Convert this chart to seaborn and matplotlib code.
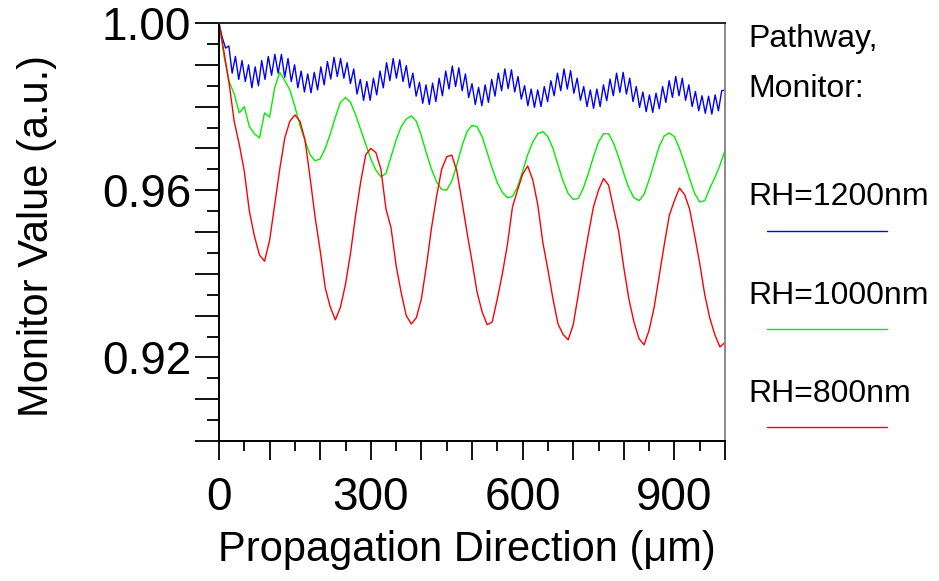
import numpy as np
import pandas as pd
import matplotlib
matplotlib.use("Agg")
import matplotlib.pyplot as plt
from matplotlib.lines import Line2D
from matplotlib.ticker import MultipleLocator, FuncFormatter
from matplotlib import font_manager
import seaborn as sns

# --- data ---
series_names = ["RH=1200nm", "RH=1000nm", "RH=800nm"]
series_colors = ["#0000ff", "#00ee00", "#ff0000"]

# RH=1200nm: fine ripple (~13 um) on a slow beat, sampled at crest / trough
x_blue = np.linspace(0, 1000, 155)
y_blue = [
    1.0000, 0.9965, 0.9940, 0.9945, 0.9880, 0.9920, 0.9865, 0.9910, 0.9860, 0.9900,
    0.9845, 0.9895, 0.9850, 0.9910, 0.9865, 0.9920, 0.9875, 0.9925, 0.9880, 0.9925,
    0.9870, 0.9915, 0.9860, 0.9900, 0.9845, 0.9885, 0.9835, 0.9878, 0.9833, 0.9882,
    0.9840, 0.9895, 0.9852, 0.9908, 0.9866, 0.9918, 0.9872, 0.9915, 0.9868, 0.9905,
    0.9855, 0.9890, 0.9830, 0.9865, 0.9815, 0.9860, 0.9815, 0.9868, 0.9828, 0.9885,
    0.9845, 0.9905, 0.9862, 0.9915, 0.9868, 0.9912, 0.9860, 0.9898, 0.9845, 0.9880,
    0.9825, 0.9858, 0.9808, 0.9852, 0.9805, 0.9856, 0.9812, 0.9868, 0.9826, 0.9885,
    0.9842, 0.9897, 0.9848, 0.9893, 0.9838, 0.9878, 0.9822, 0.9855, 0.9805, 0.9846,
    0.9802, 0.9852, 0.9810, 0.9865, 0.9825, 0.9880, 0.9838, 0.9890, 0.9843, 0.9888,
    0.9835, 0.9872, 0.9818, 0.9850, 0.9802, 0.9842, 0.9798, 0.9840, 0.9800, 0.9848,
    0.9812, 0.9862, 0.9826, 0.9880, 0.9838, 0.9890, 0.9842, 0.9886, 0.9832, 0.9868,
    0.9815, 0.9848, 0.9800, 0.9840, 0.9796, 0.9842, 0.9800, 0.9852, 0.9814, 0.9866,
    0.9826, 0.9880, 0.9834, 0.9882, 0.9830, 0.9868, 0.9812, 0.9848, 0.9798, 0.9835,
    0.9788, 0.9828, 0.9786, 0.9832, 0.9795, 0.9848, 0.9810, 0.9862, 0.9822, 0.9872,
    0.9826, 0.9868, 0.9815, 0.9852, 0.9800, 0.9836, 0.9790, 0.9826, 0.9784, 0.9825,
    0.9782, 0.9828, 0.9790, 0.9838, 0.9840,
]

# RH=1000nm and RH=800nm, every 10 um
x_step = np.arange(0, 1001, 10)
y_green = [
    1.0000, 0.9920, 0.9860, 0.9830, 0.9785, 0.9800, 0.9752, 0.9735, 0.9725, 0.9785,
    0.9775, 0.9845, 0.9882, 0.9862, 0.9840, 0.9800, 0.9755, 0.9718, 0.9685, 0.9670,
    0.9675, 0.9700, 0.9735, 0.9775, 0.9810, 0.9822, 0.9810, 0.9780, 0.9745, 0.9710,
    0.9675, 0.9648, 0.9632, 0.9640, 0.9680, 0.9720, 0.9752, 0.9770, 0.9778, 0.9765,
    0.9730, 0.9688, 0.9650, 0.9620, 0.9602, 0.9600, 0.9622, 0.9660, 0.9705, 0.9740,
    0.9755, 0.9752, 0.9728, 0.9690, 0.9652, 0.9618, 0.9595, 0.9582, 0.9585, 0.9608,
    0.9645, 0.9685, 0.9715, 0.9735, 0.9740, 0.9728, 0.9700, 0.9660, 0.9622, 0.9592,
    0.9578, 0.9580, 0.9605, 0.9640, 0.9680, 0.9715, 0.9735, 0.9735, 0.9712, 0.9678,
    0.9640, 0.9605, 0.9582, 0.9575, 0.9590, 0.9625, 0.9665, 0.9705, 0.9730, 0.9737,
    0.9728, 0.9700, 0.9665, 0.9628, 0.9592, 0.9572, 0.9575, 0.9605, 0.9630, 0.9660,
    0.9695,
]
y_red = [
    1.0000, 0.9930, 0.9855, 0.9765, 0.9710, 0.9645, 0.9550, 0.9490, 0.9445, 0.9430,
    0.9480, 0.9565, 0.9650, 0.9725, 0.9765, 0.9780, 0.9765, 0.9720, 0.9630, 0.9535,
    0.9455, 0.9366, 0.9320, 0.9290, 0.9320, 0.9375, 0.9450, 0.9540, 0.9620, 0.9685,
    0.9700, 0.9690, 0.9650, 0.9555, 0.9510, 0.9420, 0.9355, 0.9300, 0.9280, 0.9295,
    0.9340, 0.9420, 0.9510, 0.9585, 0.9650, 0.9680, 0.9684, 0.9646, 0.9575, 0.9500,
    0.9430, 0.9356, 0.9309, 0.9278, 0.9285, 0.9340, 0.9400, 0.9470, 0.9560, 0.9600,
    0.9638, 0.9658, 0.9625, 0.9565, 0.9475, 0.9410, 0.9340, 0.9280, 0.9255, 0.9242,
    0.9278, 0.9350, 0.9425, 0.9495, 0.9560, 0.9600, 0.9628, 0.9612, 0.9555, 0.9500,
    0.9415, 0.9340, 0.9285, 0.9245, 0.9230, 0.9265, 0.9320, 0.9395, 0.9470, 0.9540,
    0.9575, 0.9605, 0.9590, 0.9555, 0.9492, 0.9425, 0.9350, 0.9294, 0.9254, 0.9225,
    0.9236,
]

x_ticks_labelled = [0, 300, 600, 900]
y_ticks_labelled = [0.92, 0.96, 1.00]

# long-form table for seaborn
df = pd.concat([
    pd.DataFrame({"x": x_blue, "y": y_blue, "series": series_names[0]}),
    pd.DataFrame({"x": x_step, "y": y_green, "series": series_names[1]}),
    pd.DataFrame({"x": x_step, "y": y_red, "series": series_names[2]}),
], ignore_index=True)

sns.set_style("ticks")
installed = {f.name for f in font_manager.fontManager.ttflist}
base_font = "Liberation Sans" if "Liberation Sans" in installed else "DejaVu Sans"
plt.rcParams["font.family"] = [base_font, "DejaVu Sans"]
for key in ["text.color", "axes.labelcolor", "xtick.color", "ytick.color"]:
    plt.rcParams[key] = "black"

W, H = 939, 581
fig = plt.figure(figsize=(W / 100, H / 100), dpi=100)
ax = fig.add_axes([219 / W, 1 - 441 / H, 506 / W, 418 / H])

sns.lineplot(data=df, x="x", y="y", hue="series", hue_order=series_names,
             palette=series_colors, estimator=None, sort=False,
             linewidth=1.0, legend=False, ax=ax)

ax.set_xlim(0, 1000)
ax.set_ylim(0.90, 1.00)

ax.xaxis.set_major_locator(MultipleLocator(100))
ax.xaxis.set_minor_locator(MultipleLocator(50))
ax.yaxis.set_major_locator(MultipleLocator(0.01))
ax.yaxis.set_minor_locator(MultipleLocator(0.005))
ax.xaxis.set_major_formatter(FuncFormatter(
    lambda v, p: f"{v:.0f}" if any(abs(v - t) < 1e-6 for t in x_ticks_labelled) else ""))
ax.yaxis.set_major_formatter(FuncFormatter(
    lambda v, p: f"{v:.2f}" if any(abs(v - t) < 1e-6 for t in y_ticks_labelled) else ""))

ax.tick_params(axis="y", which="major", length=17, width=1.3, pad=3, direction="out",
               labelsize=33)
ax.tick_params(axis="y", which="minor", length=9, width=1.3, direction="out")
ax.tick_params(axis="x", which="major", length=14, width=1.3, pad=11, direction="out",
               labelsize=33)
ax.tick_params(axis="x", which="minor", length=7, width=1.3, direction="out")

for side in ["left", "bottom"]:
    ax.spines[side].set_linewidth(1.4)
    ax.spines[side].set_color("black")
ax.spines["top"].set_linewidth(1.4)
ax.spines["top"].set_color("#222222")
ax.spines["right"].set_linewidth(1.4)
ax.spines["right"].set_color("#8a8a8a")

ax.set_xlabel("Propagation Direction (\u03bcm)", fontsize=30)
ax.set_ylabel("Monitor Value (a.u.)", fontsize=30)
ax.xaxis.set_label_coords(0.49, -0.212)
ax.yaxis.set_label_coords(-0.32, 0.49)

# legend block on the right
fig.text(748 / W, 1 - 47 / H, "Pathway,", fontsize=23, va="baseline", ha="left")
fig.text(748 / W, 1 - 97 / H, "Monitor:", fontsize=23, va="baseline", ha="left")
leg_base = [205, 304, 402]
leg_line = [231, 329, 427]
for name, col, yb, yl in zip(series_names, series_colors, leg_base, leg_line):
    fig.text(748 / W, 1 - yb / H, name, fontsize=23, va="baseline", ha="left")
    fig.add_artist(Line2D([767 / W, 887 / W], [1 - yl / H, 1 - yl / H],
                          color=col, linewidth=1.0, transform=fig.transFigure))

fig.savefig("out.png", dpi=100)
